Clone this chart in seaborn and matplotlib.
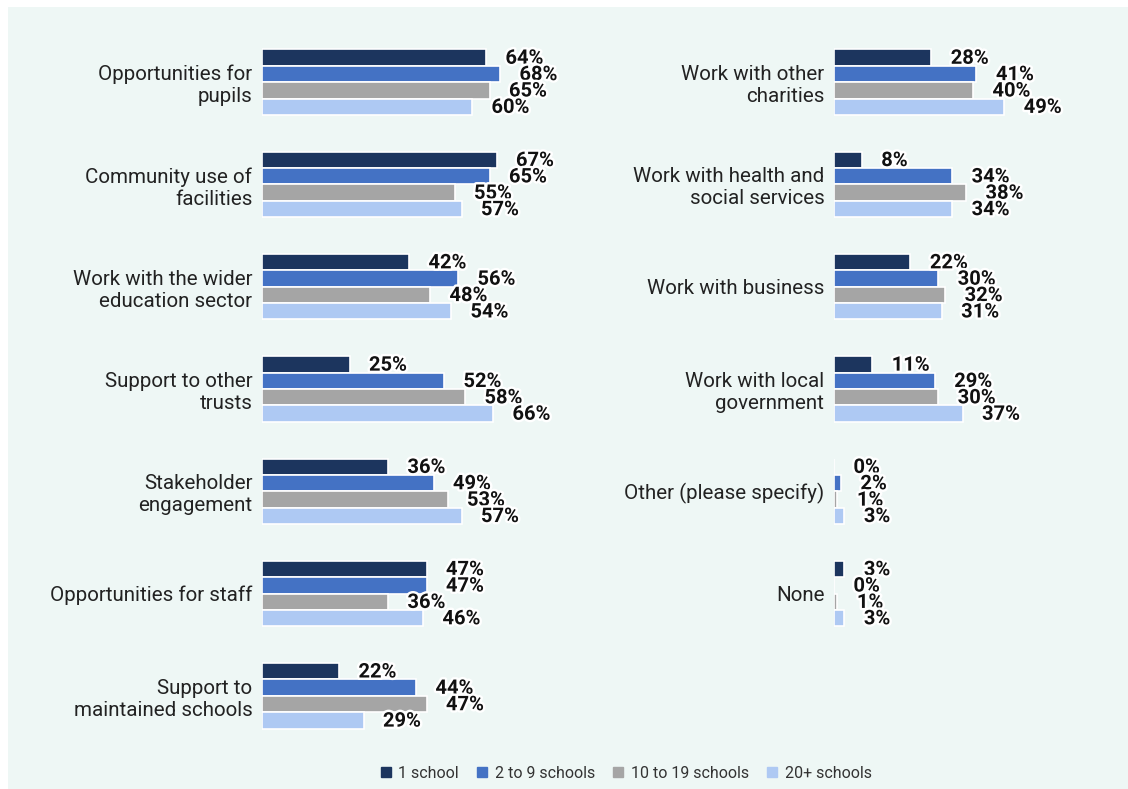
import matplotlib
matplotlib.use("Agg")
import matplotlib.pyplot as plt
import matplotlib.patheffects as pe
from matplotlib.patches import Rectangle
from matplotlib.lines import Line2D
import seaborn as sns
import pandas as pd

# Survey series (share of trusts, %)
series = ["1 school", "2 to 9 schools", "10 to 19 schools", "20+ schools"]
colors = ["#1c355e", "#4472c4", "#a5a5a5", "#aec9f3"]

left_categories = [
    "Opportunities for\npupils",
    "Community use of\nfacilities",
    "Work with the wider\neducation sector",
    "Support to other\ntrusts",
    "Stakeholder\nengagement",
    "Opportunities for staff",
    "Support to\nmaintained schools",
]
left_one = [64, 67, 42, 25, 36, 47, 22]
left_two_nine = [68, 65, 56, 52, 49, 47, 44]
left_ten_nineteen = [65, 55, 48, 58, 53, 36, 47]
left_twenty_plus = [60, 57, 54, 66, 57, 46, 29]

right_categories = [
    "Work with other\ncharities",
    "Work with health and\nsocial services",
    "Work with business",
    "Work with local\ngovernment",
    "Other (please specify)",
    "None",
]
right_one = [28, 8, 22, 11, 0, 3]
right_two_nine = [41, 34, 30, 29, 2, 0]
right_ten_nineteen = [40, 38, 32, 30, 1, 1]
right_twenty_plus = [49, 34, 31, 37, 3, 3]

BG = "#eef7f5"


def long_frame(categories, *values):
    rows = []
    for name, vals in zip(series, values):
        for cat, v in zip(categories, vals):
            rows.append({"category": cat, "series": name, "value": v})
    return pd.DataFrame(rows)


left_df = long_frame(left_categories, left_one, left_two_nine,
                     left_ten_nineteen, left_twenty_plus)
right_df = long_frame(right_categories, right_one, right_two_nine,
                      right_ten_nineteen, right_twenty_plus)

sns.set_theme(style="white")
plt.rcParams["font.family"] = ["Roboto", "DejaVu Sans"]

fig = plt.figure(figsize=(11.28, 7.89), dpi=100, facecolor="white")
fig.patches.append(Rectangle((8 / 1128, 0), 1, 1 - 7 / 789,
                             transform=fig.transFigure, facecolor=BG,
                             edgecolor="none", zorder=-10))

bottom = 1 - 747 / 789
height = 716 / 789
ax_left = fig.add_axes([262 / 1128, bottom, 280 / 1128, height])
ax_right = fig.add_axes([834 / 1128, bottom, 278 / 1128, height])

outline = [pe.withStroke(linewidth=3.5, foreground="white")]

for ax, df, cats in [(ax_left, left_df, left_categories),
                     (ax_right, right_df, right_categories)]:
    sns.barplot(data=df, y="category", x="value", hue="series",
                hue_order=series, order=cats, palette=colors,
                saturation=1, orient="h", width=0.64, dodge=True, ax=ax,
                edgecolor="white", linewidth=1.2, legend=False)
    ax.set_facecolor("none")
    ax.set_xlim(0, 80)
    ax.set_ylim(6.5, -0.5)
    ax.set_xlabel("")
    ax.set_ylabel("")
    ax.set_xticks([])
    for s in ax.spines.values():
        s.set_visible(False)
    ax.tick_params(axis="y", length=0, pad=7, labelsize=14.8,
                   labelcolor="#222222")
    for container in ax.containers:
        for bar in container:
            w = bar.get_width()
            y = bar.get_y() + bar.get_height() / 2
            ax.annotate(f"{w:.0f}%", xy=(w, y), xytext=(14, -0.5),
                        textcoords="offset points", ha="left",
                        va="center", fontsize=14.5, fontweight="bold",
                        color="#111111", path_effects=outline,
                        annotation_clip=False)

handles = [Line2D([0], [0], marker="s", linestyle="none", markersize=7,
                  markerfacecolor=c, markeredgecolor=c) for c in colors]
fig.legend(handles, series, loc="center", bbox_to_anchor=(0.555, 1 - 773 / 789),
           ncol=4, frameon=False, fontsize=11.5, handlelength=0.7,
           handletextpad=0.45, columnspacing=1.1, labelcolor="#333333")

fig.savefig("out.png", dpi=100, facecolor="white")
